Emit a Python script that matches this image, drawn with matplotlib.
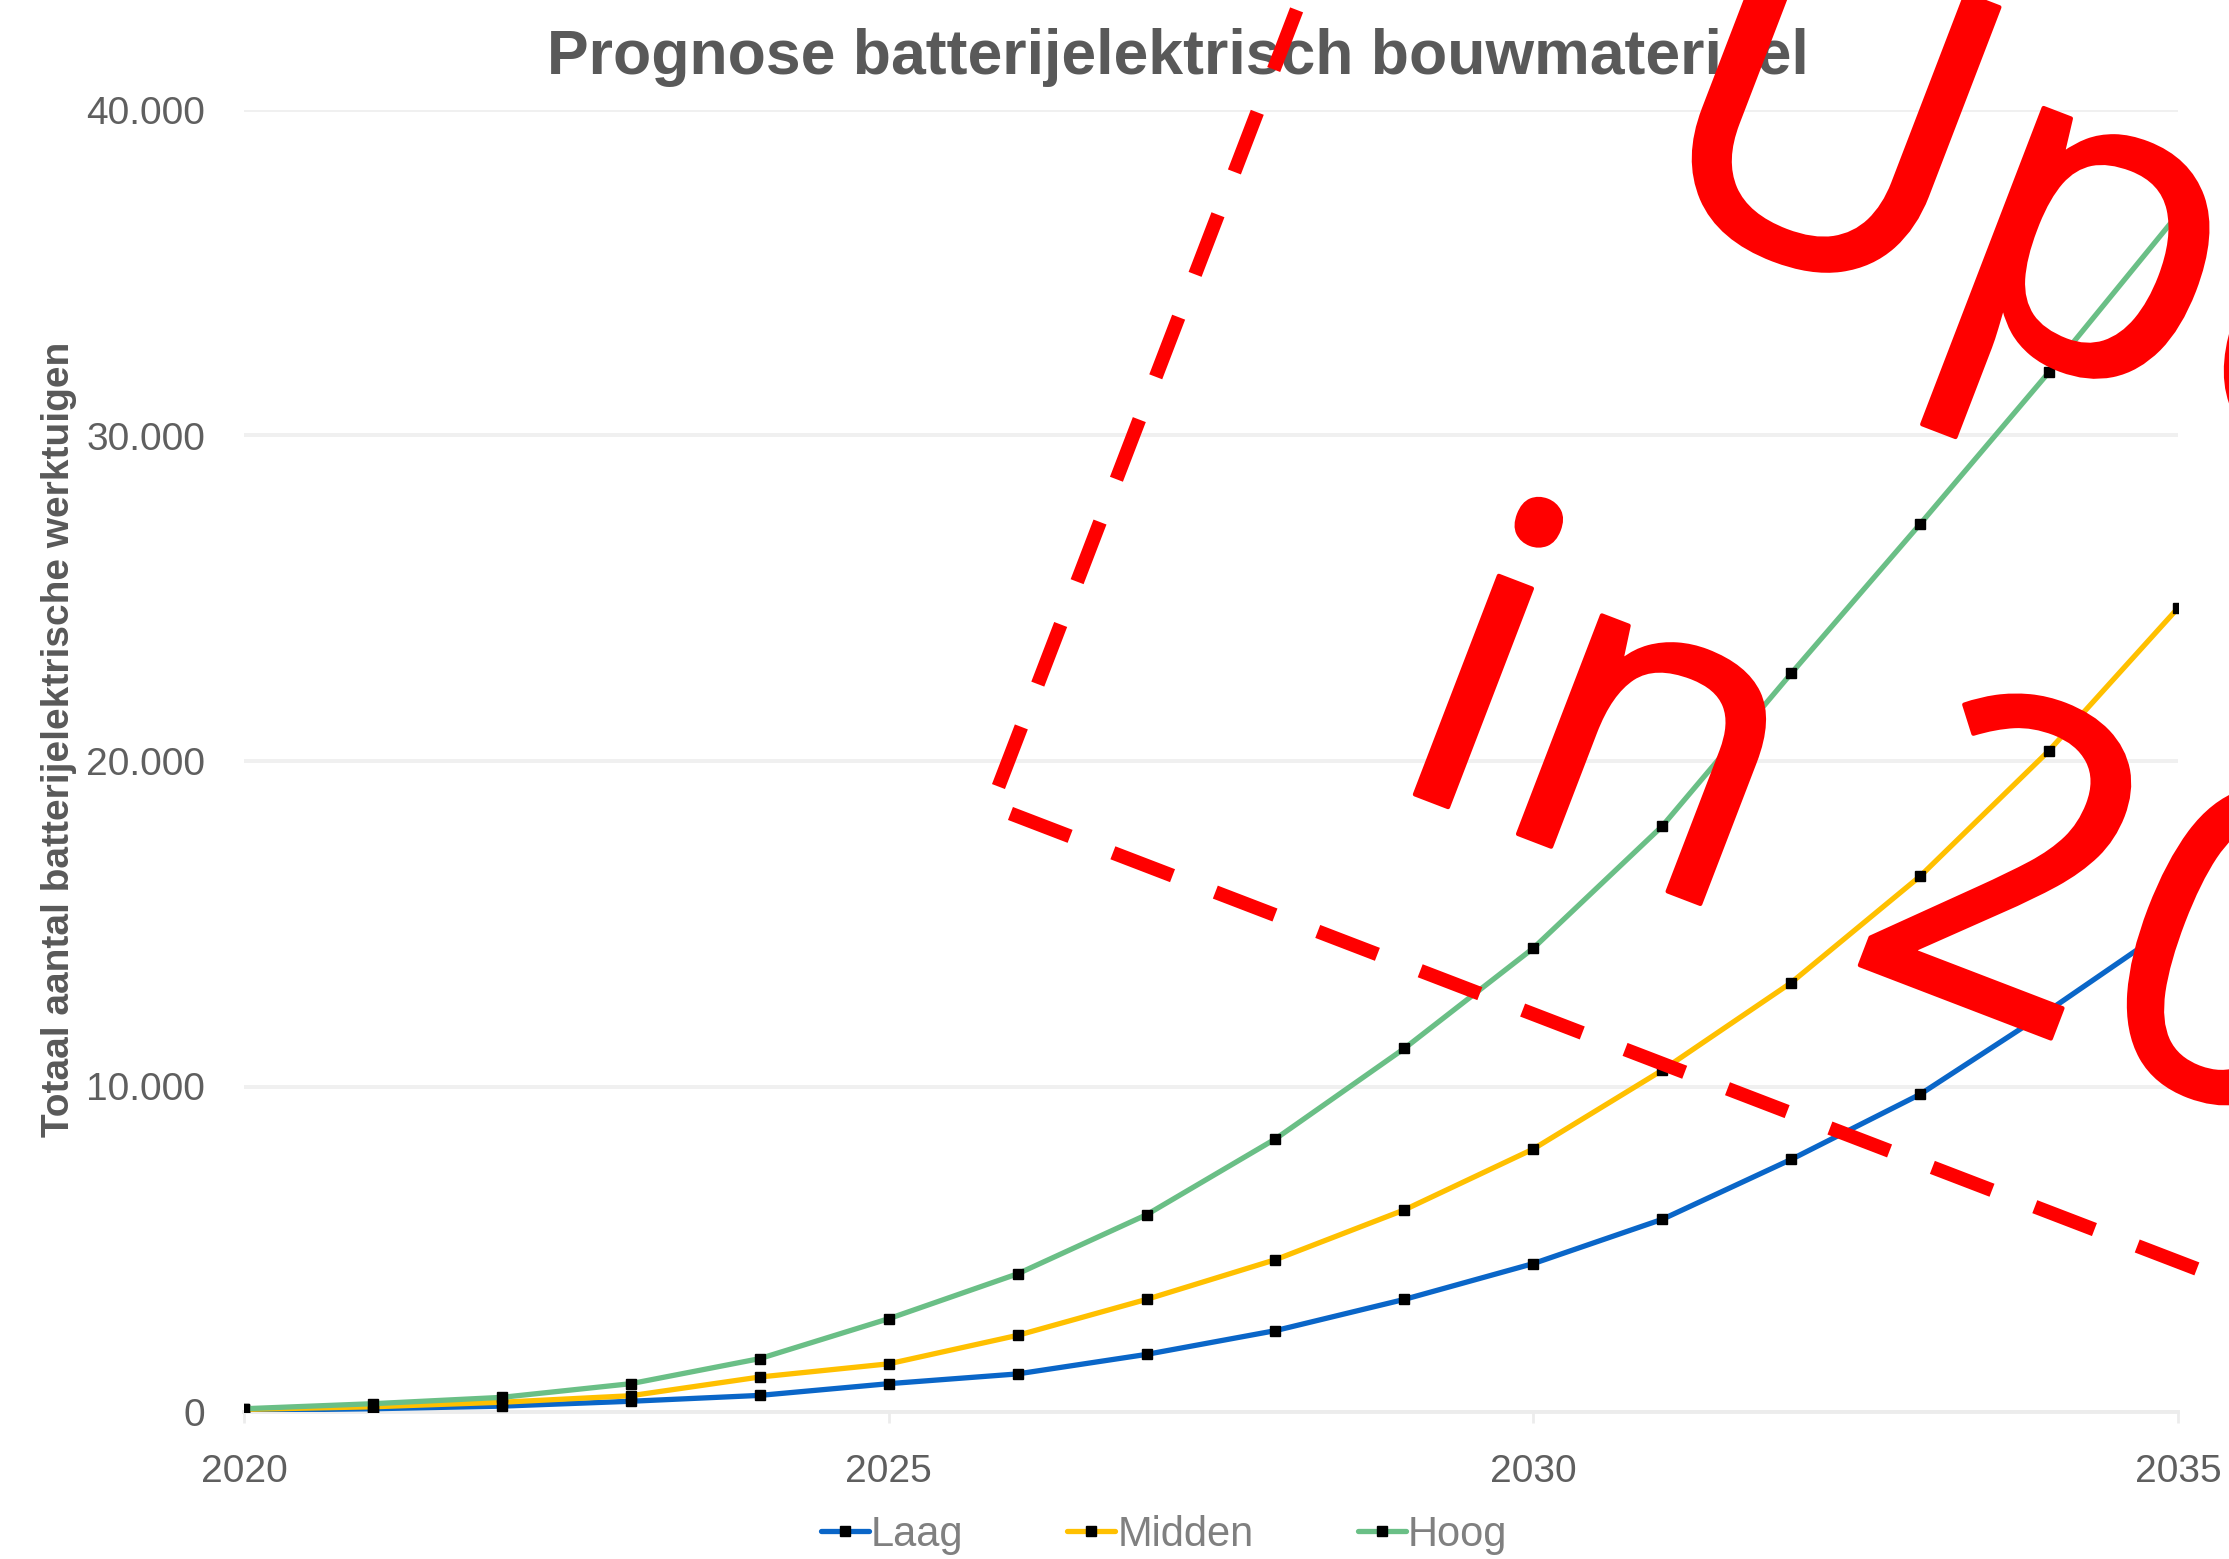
import matplotlib
matplotlib.use("Agg")
import matplotlib.pyplot as plt
from matplotlib.ticker import FuncFormatter
from matplotlib.lines import Line2D
import matplotlib.patheffects as pe
import numpy as np

# ---- data ----
years = [2020, 2021, 2022, 2023, 2024, 2025, 2026, 2027, 2028, 2029, 2030, 2031, 2032, 2033, 2034, 2035]
laag = [50, 100, 180, 330, 510, 870, 1170, 1770, 2500, 3460, 4560, 5920, 7760, 9760, 12340, 15060]
midden = [80, 160, 300, 500, 1075, 1480, 2355, 3460, 4680, 6210, 8080, 10500, 13190, 16460, 20320, 24700]
hoog = [100, 255, 450, 870, 1640, 2866, 4245, 6060, 8390, 11170, 14250, 18000, 22690, 27280, 31950, 36800]
series_names = ["Laag", "Midden", "Hoog"]
series_colors = ["#0a66c8", "#ffc000", "#6abf86"]
x_ticks = [2020, 2025, 2030, 2035]
y_ticks = [0, 10000, 20000, 30000, 40000]

title = "Prognose batterijelektrisch bouwmaterieel"
ylabel = "Totaal aantal batterijelektrische werktuigen"
stamp_line1 = "Update"
stamp_line2 = "in 2024"

W, H = 2229, 1559
plt.rcParams['font.family'] = ['Liberation Sans', 'DejaVu Sans']
fig = plt.figure(figsize=(W / 100, H / 100), dpi=100)
ax = fig.add_axes([244 / W, 1 - 1412 / H, (2178 - 244) / W, (1412 - 110) / H])

for name, vals, col in zip(series_names, [laag, midden, hoog], series_colors):
    ax.plot(years, vals, color=col, lw=3.8, marker='s', markersize=7.5,
            markerfacecolor='black', markeredgecolor='black', label=name,
            solid_capstyle='round', solid_joinstyle='round', zorder=3)

ax.set_xlim(2020, 2035)
ax.set_ylim(0, 40000)
ax.set_xticks(x_ticks)
ax.set_yticks(y_ticks)
ax.yaxis.set_major_formatter(FuncFormatter(lambda v, p: f"{int(v):,}".replace(",", ".")))
ax.grid(axis='y', color='#f0f0f0', lw=2.8, zorder=0)
ax.set_axisbelow(True)
for s in ['top', 'right', 'left']:
    ax.spines[s].set_visible(False)
ax.spines['bottom'].set_color('#ececec')
ax.spines['bottom'].set_linewidth(2.8)
ax.tick_params(axis='y', length=0, pad=28, labelsize=28, labelcolor='#5f5f5f')
ax.tick_params(axis='x', length=8, width=2, color='#ececec', pad=22, labelsize=28,
               labelcolor='#5f5f5f')

# title and y label
fig.text(1178 / W, 1 - 74 / H, title, ha='center', va='baseline', fontsize=45,
         fontweight='bold', color='#595959')
fig.text(59 / W, 1 - 739 / H, ylabel, ha='center', va='center', rotation=90,
         fontsize=28, fontweight='bold', color='#595959')

# legend
leg = fig.legend(loc='lower center', bbox_to_anchor=(1164 / W, 0.0), ncol=3,
                 frameon=False, fontsize=30, handlelength=1.15, handletextpad=0.05,
                 columnspacing=2.5, numpoints=1, borderaxespad=0.0, borderpad=0.1)
for t in leg.get_texts():
    t.set_color('#808080')

# ---- red stamp overlay ----
ang = -21.0
rad = np.deg2rad(-ang)
d = np.array([np.cos(rad), np.sin(rad)])      # along baseline (image coords, y down)
n = np.array([np.sin(rad), -np.cos(rad)])     # text "up" (image coords)

def fpt(p):
    return (p[0] / W, 1 - p[1] / H)

o2 = np.array([1380.0, 781.0])
o1 = o2 + 632 * n + 22 * d
for txt, o in [(stamp_line1, o1), (stamp_line2, o2)]:
    fx, fy = fpt(o)
    fig.text(fx, fy, txt, rotation=ang, rotation_mode='anchor', ha='left',
             va='baseline', fontsize=315, family=['Open Sans', 'DejaVu Sans'],
             color='#ff0000', zorder=10,
             path_effects=[pe.withStroke(linewidth=3, foreground='#ff0000',
                                         joinstyle='round', capstyle='round')])

corner = np.array([991.0, 806.0])
lw_pt = 10
for direction in [d, n]:
    p0 = corner
    p1 = corner + 3000 * direction
    xs = [fpt(p0)[0], fpt(p1)[0]]
    ys = [fpt(p0)[1], fpt(p1)[1]]
    ln = Line2D(xs, ys, transform=fig.transFigure, color='#ff0000', lw=lw_pt,
                linestyle=(6.4, (4.6, 3.3)), solid_capstyle='butt',
                dash_capstyle='butt', zorder=10)
    fig.add_artist(ln)

fig.savefig("out.png", dpi=100)
